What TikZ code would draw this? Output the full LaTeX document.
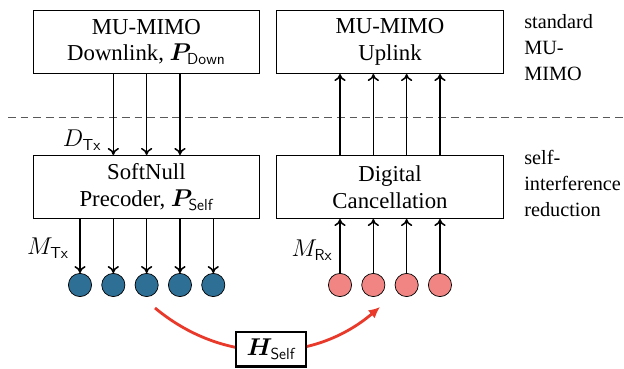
\documentclass[tikz,border=0pt]{standalone}
\usepackage{fontspec}
\setmainfont{Liberation Serif}
\usepackage{bm}
\usetikzlibrary{arrows.meta}

\definecolor{txblue}{HTML}{2E6F96}
\definecolor{rxpink}{HTML}{F08583}
\definecolor{sired}{HTML}{E8392A}

\tikzset{
  block/.style={draw, line width=0.6pt, minimum width=5.67cm, minimum height=1.58cm, align=center},
  ant/.style={circle, draw, line width=0.5pt, minimum size=0.58cm, inner sep=0pt},
  sig/.style={-{To[length=5pt,width=8pt]}, line width=1.1pt},
  side/.style={align=left, inner sep=0pt, anchor=north west, font=\fontsize{14.4}{18.5}\selectfont},
  hbox/.style={draw, fill=white, line width=2pt, minimum width=1.75cm, minimum height=0.86cm, inner sep=1pt}
}

\begin{document}
\begin{tikzpicture}[font=\fontsize{16.2}{19}\selectfont]
                \useasboundingbox (0,0) rectangle (15.6,9.2);
                % blocks
                \node[block] (down) at (3.66,8.15) {MU-MIMO\\Downlink, $\bm{P}_{\mathsf{Down}}$};
                \node[block] (up) at (9.75,8.15) {MU-MIMO\\Uplink};
                \node[block] (pre) at (3.66,4.525) {SoftNull\\Precoder, $\bm{P}_{\mathsf{Self}}$};
                \node[block] (dig) at (9.75,4.525) {Digital\\Cancellation};
                \draw[gray!70!black, line width=0.6pt, dash pattern=on 5.5pt off 3.5pt] (0.2,6.275) -- (15.6,6.275);
                \node[side] (std) at (13.1,8.85) {standard\\MU-\\MIMO};
                \node[side] (sir) at (13.1,5.45) {self-\\interference\\reduction};
                % antennas
                \foreach \i in {1,...,5}
                    \node[ant, fill=txblue] (tx\i) at ({2.0+0.833*(\i-1)},2.075) {};
                \foreach \i in {1,...,4}
                    \node[ant, fill=rxpink] (rx\i) at ({8.5+0.833*(\i-1)},2.075) {};
                % streams
                \foreach \i in {2,3,4}
                    \draw[sig] (down.south -| tx\i) -- (pre.north -| tx\i);
                \foreach \i in {1,...,5}
                    \draw[sig] (pre.south -| tx\i) -- (tx\i.north);
                \foreach \i in {1,...,4} {
                    \draw[sig] (rx\i.north) -- (dig.south -| rx\i);
                    \draw[sig] (dig.north -| rx\i) -- (up.south -| rx\i);
                }
                \node (dtx) at (2.05,5.7) {$D_{\mathsf{Tx}}$};
                \node (mtx) at (1.2,3.0) {$M_{\mathsf{Tx}}$};
                \node (mrx) at (7.8,2.95) {$M_{\mathsf{Rx}}$};
                % self-interference channel
                \coordinate (sistart) at (3.875,1.5);
                \coordinate (siend) at (9.5,1.525);
                \draw[sired, line width=2pt, -{Latex[length=8pt,width=7.5pt]}] (sistart) to[bend right=40] (siend);
                \node[hbox] (hself) at (6.775,0.47) {$\bm{H}_{\mathsf{Self}}$};
            \end{tikzpicture}
\end{document}
